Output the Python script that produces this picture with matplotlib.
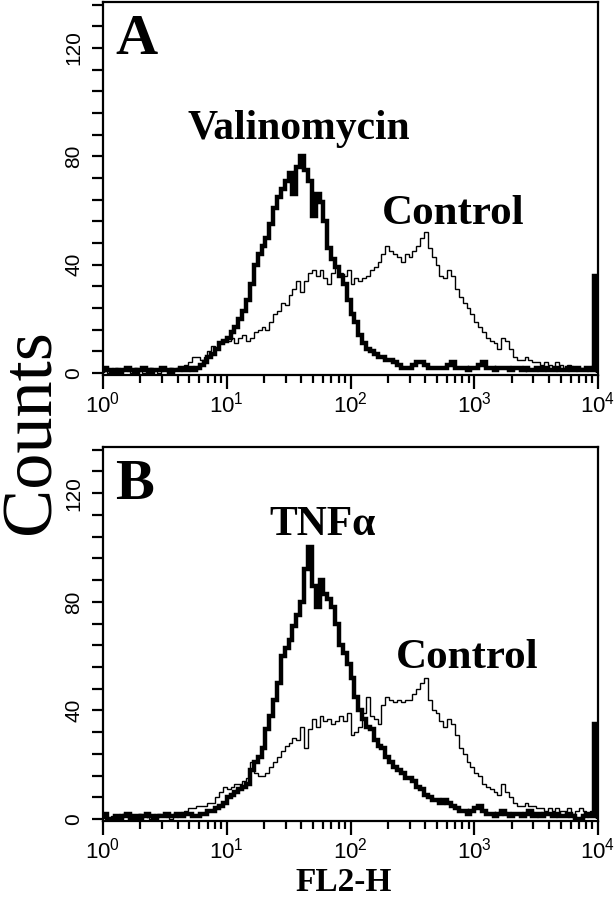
import numpy as np
import matplotlib
matplotlib.use("Agg")
from matplotlib import pyplot as plt
from matplotlib.ticker import LogLocator, NullFormatter, MultipleLocator

plt.rcParams['font.family'] = ['Liberation Sans', 'DejaVu Sans']

# 128 log-spaced channels from 10^0 to 10^4
edges = np.logspace(0, 4, 129)

valino_a = [2,1,0,1,0,1,2,1,0,1,2,1,0,1,1,2,1,0,1,1,2,1,2,1,
            2,3,4,6,7,9,11,12,13,15,17,20,23,27,33,40,
            44,47,50,55,61,65,68,71,74,66,76,80,75,71,58,66,63,56,46,42,
            39,36,33,27,22,19,14,11,9,8,7,6,6,5,5,4,3,2,2,2,
            3,4,4,3,2,2,2,2,2,3,4,2,2,2,1,2,2,3,4,2,2,1,2,2,2,1,2,2,1,2,
            1,1,2,1,2,1,1,2,1,1,2,1,2,1,1,2,1,36]
control_a = [1,0,1,2,0,1,1,0,2,1,0,1,2,1,0,1,1,2,1,2,2,
             3,4,6,6,5,6,8,10,9,11,12,12,13,11,13,14,12,13,15,16,
             17,16,19,22,23,26,25,29,31,34,30,34,37,38,36,38,35,33,37,39,
             37,36,38,33,35,34,35,36,38,39,41,44,47,45,44,43,41,44,43,45,
             47,50,52,46,43,40,36,35,38,36,31,28,26,24,22,19,17,15,13,12,
             11,9,13,12,9,6,5,5,6,5,4,4,3,4,3,2,4,3,2,3,1,2,2,1,2,1,2]
tnf_b = [2,0,0,1,0,1,2,0,1,0,1,2,1,0,1,1,2,1,1,2,1,2,2,1,
         1,2,2,3,3,4,5,6,8,9,10,11,12,13,18,21,23,26,33,38,
         44,50,60,63,66,71,75,80,92,100,86,78,88,83,81,78,72,64,61,57,
         52,45,40,37,34,33,29,27,26,23,21,19,18,17,15,15,14,12,11,9,
         8,7,7,6,7,6,5,4,3,3,2,3,4,5,3,2,
         2,1,2,3,2,1,2,2,1,2,3,1,2,1,2,2,1,2,1,1,2,1,0,0,1,2,1,35]
control_b = [1,0,1,0,1,2,1,0,1,2,1,1,0,1,2,1,1,0,2,1,2,
             3,4,4,5,5,5,6,6,8,10,12,11,12,13,13,14,15,21,17,16,
             16,17,19,21,23,25,27,28,30,29,34,26,33,37,34,38,36,37,35,36,
             38,36,39,31,32,34,39,45,38,37,35,42,45,44,43,44,43,44,44,46,
             48,50,52,44,40,39,36,34,37,35,31,26,24,21,19,17,16,13,12,11,
             10,9,13,10,8,6,5,5,6,5,5,4,4,3,4,3,4,3,3,4,2,3,4,3,2,3,3]

yticks = [0, 40, 80, 120]
serif = ['Liberation Serif', 'DejaVu Serif']

fig = plt.figure(figsize=(6.16, 9), dpi=100)
axA = fig.add_axes([103/616, 1-375/900, 495/616, 373/900])
axB = fig.add_axes([103/616, 1-821/900, 495/616, 374/900])

panels = [
    (axA, control_a, valino_a, "A", "Valinomycin", (0.395, 0.634), (0.707, 0.406)),
    (axB, control_b, tnf_b, "B", "TNF\u03b1", (0.443, 0.764), (0.736, 0.41)),
]

for ax, thin, thick, letter, name, name_xy, ctrl_xy in panels:
    ax.stairs(thin, edges, color='black', lw=1.0, baseline=0)
    ax.stairs(thick, edges, color='black', lw=3.2, baseline=0)
    ax.set_xscale('log')
    ax.set_xlim(1, 1e4)
    ax.set_ylim(-0.7, 137)
    ax.xaxis.set_major_locator(LogLocator(base=10, numticks=10))
    ax.xaxis.set_minor_locator(LogLocator(base=10, subs=np.arange(2, 10), numticks=100))
    ax.xaxis.set_minor_formatter(NullFormatter())
    ax.set_yticks(yticks)
    ax.yaxis.set_minor_locator(MultipleLocator(8))
    ax.tick_params(axis='x', which='major', length=10, width=1.6, pad=2, labelsize=16)
    ax.tick_params(axis='x', which='minor', length=6, width=1.6)
    ax.tick_params(axis='y', which='both', length=8, width=1.6, pad=6,
                   labelsize=15, labelrotation=90)
    for lab in ax.get_yticklabels():
        lab.set_va('center')
    for sp in ax.spines.values():
        sp.set_linewidth(1.6)

    ax.text(0.024, 0.86, letter, transform=ax.transAxes, family=serif,
            fontweight='bold', fontsize=42, va='baseline')
    ax.text(name_xy[0], name_xy[1], name, transform=ax.transAxes, family=serif,
            fontweight='bold', fontsize=30, ha='center', va='baseline')
    ax.text(ctrl_xy[0], ctrl_xy[1], "Control", transform=ax.transAxes, family=serif,
            fontweight='bold', fontsize=31, ha='center', va='baseline')

fig.text(32/616, 1-432/900, "Counts", family=serif, fontsize=52,
         rotation=90, ha='center', va='center')
fig.text(344/616, 1-891/900, "FL2-H", family=serif, fontweight='bold',
         fontsize=24, ha='center', va='baseline')

fig.savefig("out.png", dpi=100)
